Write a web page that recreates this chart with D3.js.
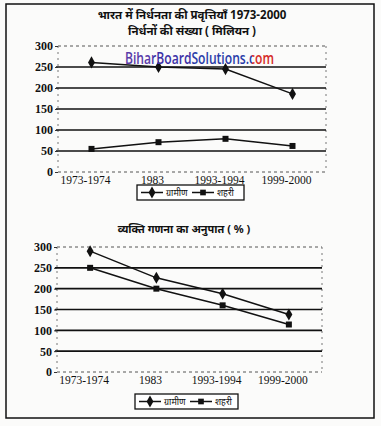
<!DOCTYPE html>
<html><head><meta charset="utf-8">
<script src="https://cdn.jsdelivr.net/npm/d3@7"></script>
<style>
html,body{margin:0;padding:0;background:#fff;}
svg{display:block;}
</style></head>
<body>
<script>
const categories = ["1973-1974","1983","1993-1994","1999-2000"];
const poorRural = [261, 250, 245, 186];
const poorUrban = [55, 71, 79, 62];
const ratioRural = [290, 226, 188, 138];
const ratioUrban = [250, 200, 160, 114];
const yTicks = [0, 50, 100, 150, 200, 250, 300];
const legendLabels = ["ग्रामीण", "शहरी"];
const title1 = ["भारत में निर्धनता की प्रवृत्तियाँ 1973-2000", "निर्धनों की संख्या ( मिलियन )"];
const title2 = "व्यक्ति गणना का अनुपात ( % )";
const watermark = "BiharBoardSolutions.com";

const W = 381, H = 426;
const svg = d3.select("body").append("svg").attr("width", W).attr("height", H);
svg.append("rect").attr("width", W).attr("height", H).attr("fill", "#fbfbfa");
// outer frame
svg.append("rect").attr("x", 6).attr("y", 4).attr("width", 368).attr("height", 414)
  .attr("fill", "none").attr("stroke", "#111").attr("stroke-width", 1.5);

const devFont = "'Noto Sans', 'Lohit Devanagari', 'Noto Sans Devanagari', sans-serif";
const numFont = "'Liberation Serif', 'DejaVu Serif', serif";

function drawChart(cfg) {
  const g = svg.append("g");
  const x = d3.scaleBand().domain(categories).range([cfg.left, cfg.right]);
  const y = d3.scaleLinear().domain([0, 300]).range([cfg.bottom, cfg.top]);
  const cx = c => x(c) + x.bandwidth() / 2;

  // dashed frame (top, bottom, left, right)
  g.append("line").attr("x1", cfg.left).attr("x2", cfg.right).attr("y1", y(300)).attr("y2", y(300))
    .attr("stroke", "#555").attr("stroke-width", 1).attr("stroke-dasharray", "3,3");
  g.append("line").attr("x1", cfg.left).attr("x2", cfg.right).attr("y1", y(0)).attr("y2", y(0))
    .attr("stroke", "#555").attr("stroke-width", 1).attr("stroke-dasharray", "3,3");
  g.append("line").attr("x1", cfg.left).attr("x2", cfg.left).attr("y1", y(300)).attr("y2", y(0))
    .attr("stroke", "#777").attr("stroke-width", 1).attr("stroke-dasharray", "2,4");
  g.append("line").attr("x1", cfg.right).attr("x2", cfg.right).attr("y1", y(300)).attr("y2", y(0))
    .attr("stroke", "#777").attr("stroke-width", 1).attr("stroke-dasharray", "2,4");

  // solid gridlines
  g.selectAll(".grid").data(yTicks.filter(t => t > 0 && t < 300)).join("line")
    .attr("x1", cfg.left - 2).attr("x2", cfg.right).attr("y1", d => y(d)).attr("y2", d => y(d))
    .attr("stroke", "#111").attr("stroke-width", 1.6);

  // y axis labels
  const ya = d3.axisLeft(y).tickValues(yTicks).tickSize(3).tickPadding(2);
  const yg = g.append("g").attr("transform", `translate(${cfg.left},0)`).call(ya);
  yg.select(".domain").remove();
  yg.selectAll("line").attr("stroke", "#333");
  yg.selectAll("text").attr("font-family", numFont).attr("font-weight", "bold")
    .attr("font-size", 12).attr("fill", "#111");

  // x axis labels
  const xa = d3.axisBottom(x).tickSize(0).tickPadding(4);
  const xg = g.append("g").attr("transform", `translate(${-6},${y(0)})`).call(xa);
  xg.select(".domain").remove();
  xg.selectAll("text").attr("font-family", numFont).attr("font-size", 11.5)
    .attr("fill", "#111");

  // lines
  const line = d3.line().x((d, i) => cx(categories[i])).y(d => y(d));
  [[cfg.rural, "diamond"], [cfg.urban, "square"]].forEach(([vals, shape]) => {
    g.append("path").datum(vals).attr("d", line).attr("fill", "none")
      .attr("stroke", "#111").attr("stroke-width", 1.5);
    const sym = d3.symbol().type(shape === "diamond" ? d3.symbolDiamond : d3.symbolSquare)
      .size(shape === "diamond" ? 42 : 36);
    g.selectAll(".m" + shape).data(vals).join("path")
      .attr("d", sym).attr("fill", "#111")
      .attr("transform", (d, i) => `translate(${cx(categories[i])},${y(d)})`);
  });

  // legend
  const lg = g.append("g").attr("transform", `translate(${cfg.legX},${cfg.legY})`);
  lg.append("rect").attr("width", cfg.legW).attr("height", 15).attr("fill", "#fff")
    .attr("stroke", "#111").attr("stroke-width", 1.3);
  const items = [[legendLabels[0], d3.symbolDiamond, 40], [legendLabels[1], d3.symbolSquare, 32]];
  const offs = [4, 55];
  items.forEach(([lab, type, size], i) => {
    const ox = offs[i];
    lg.append("line").attr("x1", ox).attr("x2", ox + 22).attr("y1", 7.5).attr("y2", 7.5)
      .attr("stroke", "#111").attr("stroke-width", 1.5);
    lg.append("path").attr("d", d3.symbol().type(type).size(size)())
      .attr("transform", `translate(${ox + 11},7.5)`).attr("fill", "#111");
    lg.append("text").attr("x", ox + 25).attr("y", 11).text(lab)
      .attr("font-family", devFont).attr("font-size", 9).attr("fill", "#111");
  });
}

// titles
svg.append("text").attr("x", 192).attr("y", 19).attr("text-anchor", "middle")
  .attr("font-family", devFont).attr("font-weight", "bold").attr("font-size", 11.5)
  .attr("fill", "#111").text(title1[0]);
svg.append("text").attr("x", 192).attr("y", 35).attr("text-anchor", "middle")
  .attr("font-family", devFont).attr("font-weight", "bold").attr("font-size", 11.5)
  .attr("fill", "#111").text(title1[1]);

drawChart({left: 58, right: 326, top: 46, bottom: 172, rural: poorRural, urban: poorUrban,
  legX: 137, legY: 185, legW: 107});

svg.append("text").attr("x", 184).attr("y", 233).attr("text-anchor", "middle")
  .attr("font-family", devFont).attr("font-weight", "bold").attr("font-size", 11)
  .attr("fill", "#111").text(title2);

drawChart({left: 57, right: 322, top: 247, bottom: 372, rural: ratioRural, urban: ratioUrban,
  legX: 135, legY: 394, legW: 103});

// watermark: one text, coloured by a hard-stop gradient
const wmX = 125, wmLen = 149;
const grad = svg.append("defs").append("linearGradient").attr("id", "wmgrad")
  .attr("gradientUnits", "userSpaceOnUse")
  .attr("x1", wmX).attr("x2", wmX + wmLen).attr("y1", 0).attr("y2", 0);
const stops = [[0, "#5a3aa8"], [0.185, "#5a3aa8"], [0.185, "#3d2fa6"], [0.445, "#3d2fa6"],
  [0.445, "#2a3aa8"], [0.85, "#2a3aa8"], [0.85, "#d42a2a"], [1, "#d42a2a"]];
stops.forEach(([o, c]) => grad.append("stop").attr("offset", o).attr("stop-color", c));
svg.append("text").attr("x", wmX).attr("y", 64)
  .attr("font-family", "'Open Sans', 'Noto Sans', sans-serif").attr("font-size", 15.5)
  .attr("font-weight", 600).attr("fill", "url(#wmgrad)")
  .attr("textLength", wmLen).attr("lengthAdjust", "spacingAndGlyphs").text(watermark);
</script>
</body></html>
